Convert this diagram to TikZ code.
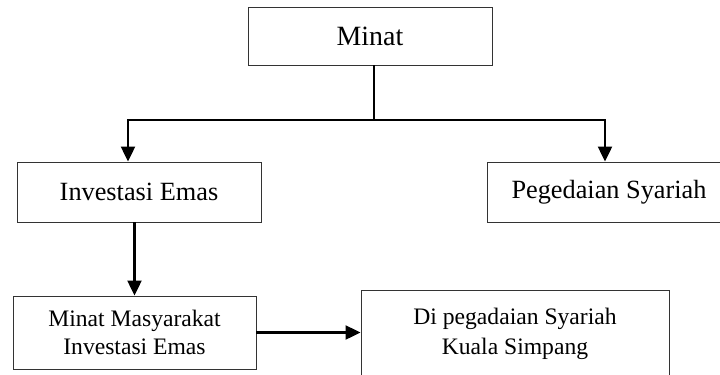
\documentclass[tikz,border=0pt]{standalone}
\usepackage{fontspec}
\setmainfont{Liberation Serif}
\usetikzlibrary{arrows.meta,calc}
\tikzset{
  box/.style={draw=black!80, line width=0.9bp, align=center, inner sep=0pt, minimum width=244bp},
  big/.style={font=\fontsize{28}{32}\selectfont},
  mid/.style={font=\fontsize{26.4}{30}\selectfont},
  sml/.style={font=\fontsize{23.7}{28}\selectfont},
  fl/.style={-{Triangle[length=15bp, width=14bp]}, line width=2.2bp, line join=miter},
  ln/.style={line width=2.2bp},
}
\begin{document}
\begin{tikzpicture}[x=1bp, y=-1bp]
  \useasboundingbox (0,0) rectangle (720,374);
  \node[box, big, minimum height=58bp] (minat) at (370,36) {Minat};
  \node[box, mid, minimum height=60bp] (emas) at (139,192) {Investasi Emas};
  \node[box, mid, minimum height=60bp] (gadai) at (609,192) {Pegedaian Syariah};
  \node[box, sml, minimum width=243bp, minimum height=73bp] (masy) at (134.5,332.5) {Minat Masyarakat\\Investasi Emas};
  \node[box, sml, font=\fontsize{23.7}{30}\selectfont, minimum width=308bp, minimum height=88bp] (lokasi) at (515,334) {Di pegadaian Syariah\\Kuala Simpang};
  \coordinate (split) at (374,120);
  \coordinate (kiri) at (128,120);
  \coordinate (kanan) at (605,120);
  \draw[ln] (minat.south -| split) -- (split);
  \draw[fl] (split) -- (kiri) -- (kiri |- emas.north);
  \draw[fl] (split) -- (kanan) -- (kanan |- gadai.north);
  \draw[fl] (masy.north |- emas.south) -- (masy.north);
  \draw[fl] (masy.east) -- (masy.east -| lokasi.west);
\end{tikzpicture}
\end{document}
